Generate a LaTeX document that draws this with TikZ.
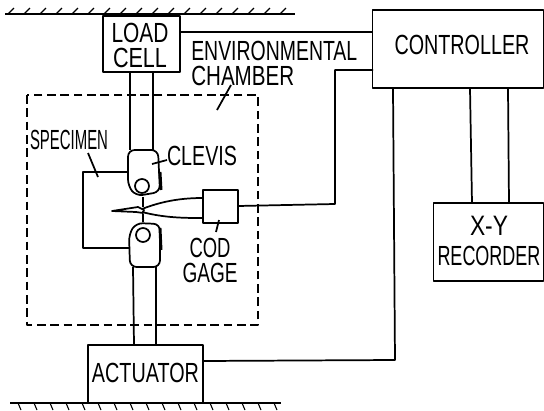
\documentclass[tikz,border=0pt]{standalone}
\usepackage{fontspec}
\setmainfont{Liberation Sans}
\usetikzlibrary{positioning}
\newlength\pxunit
\setlength\pxunit{0.75pt}
\newcommand{\lettered}[2]{\resizebox{#1\pxunit}{14.5pt}{#2}}
\tikzset{
    unitbox/.style={draw, line width=1.3pt, inner sep=0pt},
    wire/.style={line width=1.3pt},
    lettering/.style={font=\fontsize{16}{18.5}\selectfont, align=center, inner sep=0pt},
    hatch/.style={line width=0.8pt}
}
\begin{document}
\begin{tikzpicture}[x=0.75pt, y=-0.75pt, line join=round]
    \useasboundingbox (0, 0) rectangle (544, 411);
    % supports
    \coordinate (topl) at (5, 14);
    \coordinate (topr) at (295, 14);
    \coordinate (botl) at (10, 403);
    \coordinate (botr) at (281, 403);
    \draw[wire] (topl) -- (topr);
    \draw[wire] (botl) -- (botr);
    \foreach \x in {8, 24, ..., 290} \draw[hatch] (\x, 14) -- ++(6, -6);
    \foreach \x in {18, 34, ..., 275} \draw[hatch] (\x, 403) -- ++(3, 7);
    % units
    \node[unitbox, minimum width=77*0.75pt, minimum height=56*0.75pt] (load) at (141.5, 44) {};
    \node[lettering] (loadtext) at (140, 45.5) {\lettered{57}{LOAD}\\\lettered{54}{CELL}};
    \node[unitbox, minimum width=115*0.75pt, minimum height=58*0.75pt] (act) at (145.5, 374) {};
    \node[lettering] (acttext) at (145.5, 373) {\lettered{107}{ACTUATOR}};
    \node[unitbox, minimum width=171*0.75pt, minimum height=78*0.75pt] (ctrl) at (458, 49) {};
    \node[lettering] (ctrltext) at (462, 45) {\lettered{135}{CONTROLLER}};
    \node[unitbox, minimum width=110*0.75pt, minimum height=78*0.75pt] (rec) at (488.5, 242) {};
    \node[lettering] (rectext) at (489, 241) {\lettered{38}{X-Y}\\[4.5pt]\lettered{103}{RECORDER}};
    \node[unitbox, minimum width=35*0.75pt, minimum height=33*0.75pt] (cod) at (220.5, 206.5) {};
    \node[lettering] (codtext) at (210, 260.5) {\lettered{41}{COD}\\\lettered{55}{GAGE}};
    % chamber
    \draw[wire, dash pattern=on 6.5pt off 3.5pt] (27, 95) rectangle (258, 325);
    \node[lettering, align=left, anchor=north west] (envtext) at (191, 41) {\lettered{166}{ENVIRONMENTAL}\\\lettered{103}{CHAMBER}};
    \coordinate (envtip) at (217, 110);
    \draw[wire] (231, 85) -- (envtip);
    % specimen and clevises
    \draw[wire] (128, 172) -- (83, 172) -- (83, 248) -- (129, 248);
    \draw[wire, rounded corners=5pt] (128, 150) -- (158, 150) -- (160, 192) -- (136, 196) -- (128, 186) -- cycle;
    \draw[wire, rounded corners=5pt] (130, 267) -- (160, 267) -- (160, 224) -- (136, 223) -- (129, 234) -- cycle;
    \draw[line width=2.2pt] (160, 172) -- (161, 190);
    \draw[line width=2.2pt] (160, 228) -- (161, 250);
    \node[draw, circle, line width=1.3pt, minimum size=14*0.75pt, inner sep=0pt] (pinu) at (142, 186) {};
    \node[draw, circle, line width=1.3pt, minimum size=14*0.75pt, inner sep=0pt] (pinl) at (143, 235) {};
    % crack and gage arms
    \draw[wire] (112, 211) -- (138, 207) -- (144, 210) -- (143, 213) -- (136, 212) -- cycle;
    \draw[wire] (143, 197) -- (143, 207);
    \draw[wire] (143, 214) -- (143, 222);
    \draw[wire] (142, 209) .. controls (165, 200) and (185, 198) .. (203, 198);
    \draw[wire] (142, 212) .. controls (165, 218) and (185, 218) .. (203, 218);
    % rods
    \draw[wire] (130, 72) -- (130, 150);
    \draw[wire] (153, 72) -- (153, 150);
    \draw[wire] (133, 267) -- (134, 345);
    \draw[wire] (156, 267) -- (156, 345);
    % connections
    \draw[wire] (180, 32) -- (373, 32);
    \draw[wire] (238, 206) -- (335, 204) -- (335, 70) -- (373, 70);
    \draw[wire] (203, 361) -- (395, 360) -- (393, 88);
    \draw[wire] (470, 88) -- (472, 203);
    \draw[wire] (508, 88) -- (509, 203);
    % labels
    \node[lettering] (spectext) at (69, 140) {\lettered{78}{SPECIMEN}};
    \node[lettering] (clevistext) at (202, 156) {\lettered{70}{CLEVIS}};
    \draw[wire] (88, 153) -- (98, 177);
    \draw[wire] (167, 160) -- (152, 164);
    \draw[wire] (219, 220) -- (216, 232);
\end{tikzpicture}
\end{document}
